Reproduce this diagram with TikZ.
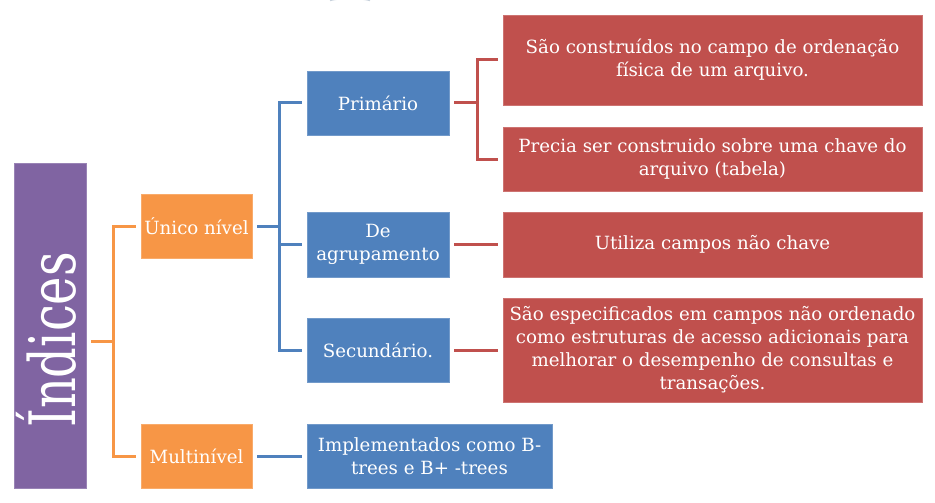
\documentclass[tikz,border=0pt]{standalone}
\usepackage{fontspec}
\setmainfont{DejaVu Serif}
\usepackage{graphicx}
\definecolor{opurple}{HTML}{8064A2}
\definecolor{oorange}{HTML}{F79646}
\definecolor{oblue}{HTML}{4F81BD}
\definecolor{ored}{HTML}{C0504D}
\definecolor{arcgray}{HTML}{C8D2DC}
\begin{document}
\begin{tikzpicture}[x=1pt,y=-1pt,
  box/.style={inner sep=0pt, align=center, text=white, font=\fontsize{18.2}{23}\selectfont},
  pbox/.style={box, fill=opurple, draw=opurple!80!white, line width=0.6pt},
  obox/.style={box, fill=oorange, draw=oorange!80!white, line width=0.6pt},
  bbox/.style={box, fill=oblue, draw=oblue!80!white, line width=0.6pt},
  rbox/.style={box, fill=ored, draw=ored!80!white, line width=0.6pt},
  oline/.style={draw=oorange, line width=3pt},
  bline/.style={draw=oblue, line width=3pt},
  rline/.style={draw=ored, line width=3pt}]
\useasboundingbox (0,0) rectangle (935,503);
\fill[white] (0,0) rectangle (935,503);
\draw[arcgray, line width=1.5pt] (330,0.5) arc[start angle=200, end angle=340, x radius=21.3pt, y radius=-3pt];

% nodes
\node[pbox, minimum width=72pt, minimum height=325pt] (ind) at (50,325.5) {};
\node[text=white, inner sep=0pt, rotate=90, font=\fontsize{64}{64}\selectfont] (indt) at (46,340) {\scalebox{0.75}[1]{Índices}};
\node[obox, minimum width=111pt, minimum height=64pt] (uni) at (196.5,226) {Único nível};
\node[obox, minimum width=111pt, minimum height=64pt] (mul) at (196.5,456) {Multinível};
\node[bbox, minimum width=142pt, minimum height=64pt] (pri) at (378,103) {Primário};
\node[bbox, minimum width=142pt, minimum height=65pt] (agr) at (378,244.5) {De\\agrupamento};
\node[bbox, minimum width=142pt, minimum height=64pt] (sec) at (378,350) {Secundário.};
\node[bbox, minimum width=245pt, minimum height=64pt] (imp) at (429.5,456) {Implementados como B-\\trees e B+ -trees};
\node[rbox, minimum width=419pt, minimum height=90pt] (r1) at (712.5,60) {São construídos no campo de ordenação\\física de um arquivo.};
\node[rbox, minimum width=419pt, minimum height=64pt] (r2) at (712.5,159) {Precia ser construido sobre uma chave do\\arquivo (tabela)};
\node[rbox, minimum width=419pt, minimum height=65pt] (r3) at (712.5,244.5) {Utiliza campos não chave};
\node[rbox, minimum width=419pt, minimum height=104pt] (r4) at (712.5,350) {São especificados em campos não ordenado\\como estruturas de acesso adicionais para\\melhorar o desempenho de consultas e\\transações.};

% junctions
\coordinate (j1) at (113,341);
\coordinate (j2) at (279,226);
\coordinate (j3) at (477,103);

% orange connectors
\draw[oline] ([xshift=5pt]ind.east |- j1) -- (j1);
\draw[oline] (j1) |- ([xshift=-5pt]uni.west);
\draw[oline] (j1) |- ([xshift=-5pt]mul.west);

% blue connectors
\draw[bline] ([xshift=5pt]uni.east) -- (j2);
\draw[bline] (j2) |- ([xshift=-5pt]pri.west);
\draw[bline] (j2) |- ([xshift=-5pt]agr.west);
\draw[bline] (j2) |- ([xshift=-5pt]sec.west);
\draw[bline] ([xshift=5pt]mul.east) -- ([xshift=-5pt]imp.west);

% red connectors
\draw[rline] ([xshift=5pt]pri.east) -- (j3);
\draw[rline] (j3) |- ([xshift=-5pt]r1.west);
\draw[rline] (j3) |- ([xshift=-5pt]r2.west);
\draw[rline] ([xshift=5pt]agr.east) -- ([xshift=-5pt]r3.west);
\draw[rline] ([xshift=5pt]sec.east) -- ([xshift=-5pt]r4.west);
\end{tikzpicture}
\end{document}
